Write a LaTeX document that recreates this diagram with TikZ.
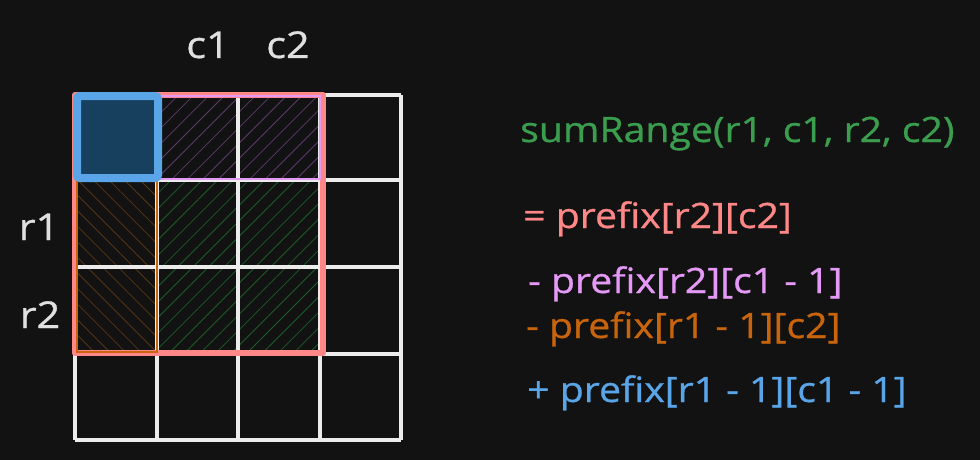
\documentclass[tikz,border=0pt]{standalone}
\usepackage{fontspec}
\setmainfont{Open Sans}[FakeStretch=1.12,FakeBold=0.8]
\usetikzlibrary{patterns.meta}
\definecolor{bgc}{HTML}{121212}
\definecolor{gridc}{HTML}{ECECEC}
\definecolor{pinkc}{HTML}{FF8787}
\definecolor{violetc}{HTML}{E599F7}
\definecolor{violeth}{HTML}{5E3A6C}
\definecolor{orangec}{HTML}{C8640C}
\definecolor{orangeh}{HTML}{553612}
\definecolor{greenh}{HTML}{1A5E28}
\definecolor{bluec}{HTML}{59A5E8}
\definecolor{bluef}{HTML}{16405E}
\definecolor{greent}{HTML}{3A9E4E}
\definecolor{labelc}{HTML}{E0E0E0}
\tikzset{
  gridline/.style={draw=gridc, line width=3.5pt},
  lbl/.style={font=\fontsize{37}{42}\selectfont, text=labelc, inner sep=0pt, anchor=base},
  formula/.style={font=\fontsize{35}{40}\selectfont, inner sep=0pt, anchor=base west},
}
\begin{document}
\begin{tikzpicture}[x=1pt,y=-1pt]
\useasboundingbox (0,0) rectangle (980,460);
\fill[bgc] (0,0) rectangle (980,460);
% hatched regions
\fill[pattern={Lines[angle=45,distance=11pt,line width=0.8pt]}, pattern color=greenh] (157,180) rectangle (320,353);
\fill[pattern={Lines[angle=45,distance=11pt,line width=0.8pt]}, pattern color=violeth] (157,95) rectangle (320,179);
\fill[pattern={Lines[angle=-45,distance=11pt,line width=0.8pt]}, pattern color=orangeh] (77,180) rectangle (157,352);
% grid
\foreach \x in {75,157,238,320,401} \draw[gridline] (\x,95) -- (\x,440);
\foreach \y in {95,180,267,354,440} \draw[gridline] (75,\y) -- (401,\y);
% outlines
\draw[pinkc, line width=6.5pt, line join=round] (75,95) rectangle (323,353);
\draw[violetc, line width=1.8pt] (157,96) rectangle (320,179);
\draw[orangec, line width=1.8pt] (77,181) rectangle (157,352);
\draw[bluec, fill=bluef, line width=8pt, rounded corners=3pt] (77,96) rectangle (158,178);
% labels
\node[lbl] (c1) at (208,58) {c1};
\node[lbl] (c2) at (288,58) {c2};
\node[lbl] (r1) at (39,240) {r1};
\node[lbl] (r2) at (40,328) {r2};
% formulas
\node[formula, text=greent] (f0) at (520,142) {sumRange(r1, c1, r2, c2)};
\node[formula, text=pinkc] (f1) at (523,228) {= prefix[r2][c2]};
\node[formula, text=violetc] (f2) at (528,293) {- prefix[r2][c1 - 1]};
\node[formula, text=orangec] (f3) at (526,338) {- prefix[r1 - 1][c2]};
\node[formula, text=bluec] (f4) at (527,402) {+ prefix[r1 - 1][c1 - 1]};
\end{tikzpicture}
\end{document}
